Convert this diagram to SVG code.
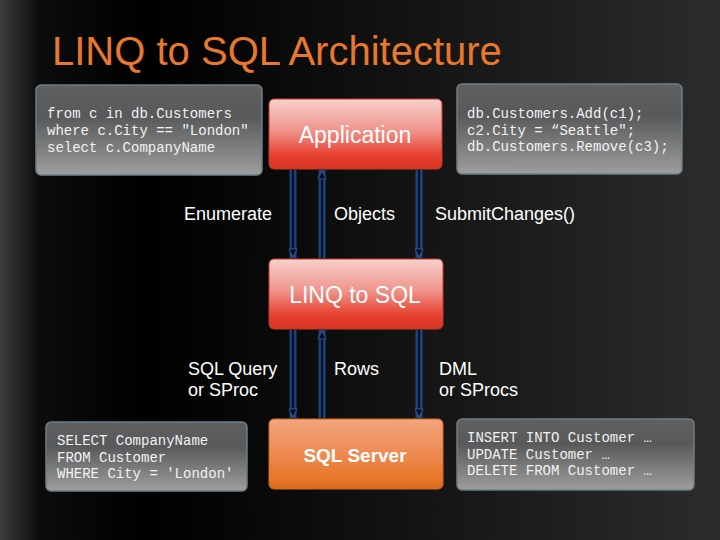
<svg xmlns="http://www.w3.org/2000/svg" width="720" height="540" viewBox="0 0 720 540">
  <defs>
    <linearGradient id="bg" x1="0" y1="0" x2="1" y2="0">
      <stop offset="0" stop-color="#3c3c3c"/>
      <stop offset="0.055" stop-color="#0c0c0c"/>
      <stop offset="0.2" stop-color="#000000"/>
      <stop offset="0.6" stop-color="#151515"/>
      <stop offset="1" stop-color="#2c2c2c"/>
    </linearGradient>
    <linearGradient id="red" x1="0" y1="0" x2="0" y2="1">
      <stop offset="0" stop-color="#f7d0cc"/>
      <stop offset="0.45" stop-color="#ef948c"/>
      <stop offset="0.8" stop-color="#e8412f"/>
      <stop offset="1" stop-color="#d93322"/>
    </linearGradient>
    <linearGradient id="orange" x1="0" y1="0" x2="0" y2="1">
      <stop offset="0" stop-color="#f4a47e"/>
      <stop offset="0.5" stop-color="#ee8a52"/>
      <stop offset="0.85" stop-color="#e87628"/>
      <stop offset="1" stop-color="#d86a1e"/>
    </linearGradient>
    <linearGradient id="gray" x1="0" y1="0" x2="0" y2="1">
      <stop offset="0" stop-color="#5e6062"/>
      <stop offset="0.35" stop-color="#58595a"/>
      <stop offset="1" stop-color="#9e9e9e"/>
    </linearGradient>
    <marker id="ah" markerWidth="10" markerHeight="10" refX="8" refY="5" orient="auto" markerUnits="userSpaceOnUse" viewBox="0 0 10 10">
      <path d="M1,1 L9,5 L1,9 Z" fill="#050a18" stroke="#2d5d9c" stroke-width="1"/>
    </marker>
    <style>
      .title { font-family: "Liberation Sans", Arial, sans-serif; font-size: 40px; fill: #e8782e; }
      .code { fill: url(#gray); stroke: #6e7e86; stroke-width: 1.5; }
      .mono { font-family: "Liberation Mono", "Courier New", monospace; font-size: 14px; fill: #f2f2f2; }
      .red { fill: url(#red); stroke: #c83a2c; stroke-width: 1; }
      .orange { fill: url(#orange); stroke: #d06a24; stroke-width: 1; }
      .btn { font-family: "Liberation Sans", Arial, sans-serif; font-size: 23px; fill: #ffffff; text-anchor: middle; }
      .btnb { font-family: "Liberation Sans", Arial, sans-serif; font-size: 19px; font-weight: bold; fill: #ffffff; text-anchor: middle; }
      .lbl { font-family: "Liberation Sans", Arial, sans-serif; font-size: 18px; fill: #ffffff; }
      .glow { stroke: #1f4f8c; stroke-width: 7; stroke-opacity: 0.85; fill: none; }
      .core { stroke: #061024; stroke-width: 2.2; fill: none; }
    </style>
  </defs>

  <rect x="0" y="0" width="720" height="540" fill="url(#bg)"/>

  <text class="title" x="52" y="65">LINQ to SQL Architecture</text>

  <g id="connectors">
    <line class="glow" x1="293" y1="170" x2="293" y2="258"/>
    <line class="core" x1="293" y1="170" x2="293" y2="256" marker-end="url(#ah)"/>
    <line class="glow" x1="322" y1="170" x2="322" y2="258"/>
    <line class="core" x1="322" y1="258" x2="322" y2="172" marker-end="url(#ah)"/>
    <line class="glow" x1="419" y1="170" x2="419" y2="258"/>
    <line class="core" x1="419" y1="170" x2="419" y2="256" marker-end="url(#ah)"/>

    <line class="glow" x1="293" y1="330" x2="293" y2="418"/>
    <line class="core" x1="293" y1="330" x2="293" y2="416" marker-end="url(#ah)"/>
    <line class="glow" x1="322" y1="330" x2="322" y2="418"/>
    <line class="core" x1="322" y1="418" x2="322" y2="332" marker-end="url(#ah)"/>
    <line class="glow" x1="419" y1="330" x2="419" y2="418"/>
    <line class="core" x1="419" y1="330" x2="419" y2="416" marker-end="url(#ah)"/>

    <text class="lbl" x="184" y="220">Enumerate</text>
    <text class="lbl" x="334" y="220">Objects</text>
    <text class="lbl" x="435" y="220">SubmitChanges()</text>

    <text class="lbl" x="188" y="375">SQL Query</text>
    <text class="lbl" x="188" y="396">or SProc</text>
    <text class="lbl" x="334" y="375">Rows</text>
    <text class="lbl" x="439" y="375">DML</text>
    <text class="lbl" x="439" y="396">or SProcs</text>
  </g>

  <g id="query-code">
    <rect class="code" x="36" y="85" width="226" height="90" rx="5"/>
    <text class="mono" x="47" y="118">from c in db.Customers</text>
    <text class="mono" x="47" y="135">where c.City == "London"</text>
    <text class="mono" x="47" y="152">select c.CompanyName</text>
  </g>

  <g id="application">
    <rect class="red" x="269" y="99" width="173" height="70" rx="5"/>
    <text class="btn" x="355" y="143">Application</text>
  </g>

  <g id="update-code">
    <rect class="code" x="457" y="84" width="225" height="90" rx="5"/>
    <text class="mono" x="467" y="118">db.Customers.Add(c1);</text>
    <text class="mono" x="467" y="135">c2.City = “Seattle";</text>
    <text class="mono" x="467" y="151">db.Customers.Remove(c3);</text>
  </g>

  <g id="linq-to-sql">
    <rect class="red" x="269" y="259" width="174" height="70" rx="5"/>
    <text class="btn" x="355" y="303">LINQ to SQL</text>
  </g>

  <g id="select-sql">
    <rect class="code" x="46" y="422" width="201" height="69" rx="5"/>
    <text class="mono" x="57" y="445">SELECT CompanyName</text>
    <text class="mono" x="57" y="462">FROM Customer</text>
    <text class="mono" x="57" y="478">WHERE City = 'London'</text>
  </g>

  <g id="sql-server">
    <rect class="orange" x="269" y="419" width="174" height="70" rx="5"/>
    <text class="btnb" x="355" y="462">SQL Server</text>
  </g>

  <g id="dml-sql">
    <rect class="code" x="457" y="419" width="237" height="71" rx="5"/>
    <text class="mono" x="467" y="442">INSERT INTO Customer …</text>
    <text class="mono" x="467" y="459">UPDATE Customer …</text>
    <text class="mono" x="467" y="475">DELETE FROM Customer …</text>
  </g>
</svg>
